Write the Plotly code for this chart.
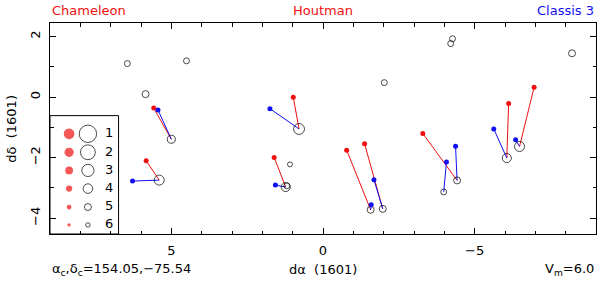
import plotly.graph_objects as go

# ---------------- data ----------------
# stars: offsets (dα, dδ) in units of the chart, and visual magnitude
star_x = [6.45, 4.50, 5.85, 5.00, 0.79, 5.40, 1.23, 1.19, 1.09, -2.02, -1.57, -1.97,
          -4.42, -3.98, -4.27, -4.21, -8.21, -6.06, -6.48]
star_y = [1.11, 1.20, 0.10, -1.39, -1.05, -2.74, -2.97, -2.93, -2.22, 0.48, -3.72, -3.69,
          -2.75, -3.13, 1.93, 1.77, 1.45, -2.01, -1.63]
star_mag = [5.4, 5.4, 5.0, 4.6, 3.5, 3.85, 4.2, 5.4, 5.8, 5.4, 5.0, 5.0,
            5.0, 5.4, 5.4, 5.4, 5.0, 4.2, 3.85]

# red (Houtman) positions, linked to star index
red_star = [3, 4, 5, 6, 10, 11, 12, 17, 18]
red_x = [5.58, 0.98, 5.83, 1.61, -0.78, -1.37, -3.29, -6.12, -6.96]
red_y = [-0.36, 0.00, -2.10, -1.99, -1.75, -1.54, -1.20, -0.21, 0.33]

# blue (Classis 3) positions, linked to star index
blue_star = [3, 4, 5, 6, 10, 11, 12, 13, 17, 18]
blue_x = [5.44, 1.75, 6.28, 1.57, -1.59, -1.68, -4.37, -4.07, -5.63, -6.35]
blue_y = [-0.42, -0.38, -2.77, -2.90, -3.55, -2.73, -1.62, -2.14, -1.05, -1.41]

legend_mags = [1, 2, 3, 4, 5, 6]
legend_labels = ["1", "2", "3", "4", "5", "6"]

x_range = [9, -9]
y_range = [-4.52, 2.45]

# ---------------- styling helpers ----------------
RED = "#f01010"
BLUE = "#1010f0"
FONT = "DejaVu Sans"


def circ_size(m):
    return 20.0 - 2.6 * m


def dot_size(m):
    return 12.2 - 1.48 * m


fig = go.Figure()


def segs(idx, xs, ys):
    lx, ly = [], []
    for i, x, y in zip(idx, xs, ys):
        lx += [star_x[i], x, None]
        ly += [star_y[i], y, None]
    return lx, ly


rx, ry = segs(red_star, red_x, red_y)
bx, by = segs(blue_star, blue_x, blue_y)

fig.add_trace(go.Scatter(x=rx, y=ry, mode="lines", line=dict(color=RED, width=1),
                         hoverinfo="skip"))
fig.add_trace(go.Scatter(x=bx, y=by, mode="lines", line=dict(color=BLUE, width=1),
                         hoverinfo="skip"))
fig.add_trace(go.Scatter(x=star_x, y=star_y, mode="markers",
                         marker=dict(symbol="circle-open", color="black",
                                     size=[circ_size(m) for m in star_mag],
                                     line=dict(width=1, color="black"))))
fig.add_trace(go.Scatter(x=red_x, y=red_y, mode="markers",
                         marker=dict(color=RED, size=5, line=dict(width=0))))
fig.add_trace(go.Scatter(x=blue_x, y=blue_y, mode="markers",
                         marker=dict(color=BLUE, size=5, line=dict(width=0))))

# legend box (in data coordinates, lower-left corner of the frame)
leg_x_dot, leg_x_circ, leg_x_txt = 8.37, 7.75, 7.05
leg_rows = [-1.21, -1.82, -2.42, -3.02, -3.63, -4.22]
fig.add_shape(type="rect", xref="x", yref="y", x0=9, x1=6.74, y0=y_range[0], y1=-0.61,
              line=dict(color="black", width=1), fillcolor="white", layer="below")
fig.add_trace(go.Scatter(x=[leg_x_dot] * 6, y=leg_rows, mode="markers",
                         marker=dict(color=RED, size=[dot_size(m) for m in legend_mags],
                                     line=dict(width=0))))
fig.add_trace(go.Scatter(x=[leg_x_circ] * 6, y=leg_rows, mode="markers",
                         marker=dict(symbol="circle-open", color="black",
                                     size=[circ_size(m) for m in legend_mags],
                                     line=dict(width=1, color="black"))))
fig.add_trace(go.Scatter(x=[leg_x_txt] * 6, y=leg_rows, mode="text", text=legend_labels,
                         textfont=dict(family=FONT, size=13, color="black")))

axis_common = dict(showline=True, linecolor="black", linewidth=1, mirror="ticks",
                   ticks="inside", tickcolor="black", tickwidth=1, ticklen=6,
                   showgrid=False, zeroline=False,
                   tickfont=dict(family=FONT, size=13, color="black"))

fig.update_layout(
    width=600, height=282,
    margin=dict(l=50, r=4, t=23, b=48),
    paper_bgcolor="white", plot_bgcolor="white",
    showlegend=False,
    xaxis=dict(range=x_range, tick0=0, dtick=5,
               minor=dict(dtick=1, ticklen=3.5, ticks="inside", tickcolor="black"),
               ticklabelstandoff=4, **axis_common),
    yaxis=dict(range=y_range, tick0=0, dtick=2, tickangle=-90,
               minor=dict(dtick=1, ticklen=3.5, ticks="inside", tickcolor="black"),
               ticklabelstandoff=4, **axis_common),
)

ann_font = dict(family=FONT, size=13)
anns = [
    dict(text="Chameleon", x=0.0, y=1.057, xanchor="left", font=dict(color=RED, **ann_font)),
    dict(text="Houtman", x=0.5, y=1.057, xanchor="center", font=dict(color=RED, **ann_font)),
    dict(text="Classis 3", x=1.0, y=1.057, xanchor="right", font=dict(color=BLUE, **ann_font)),
    dict(text="α<sub>c</sub>,δ<sub>c</sub>=154.05,−75.54", x=0.0, y=-0.17, xanchor="left",
         font=dict(color="black", **ann_font)),
    dict(text="dα  (1601)", x=0.5, y=-0.17, xanchor="center",
         font=dict(color="black", **ann_font)),
    dict(text="V<sub>m</sub>=6.0", x=1.0, y=-0.17, xanchor="right",
         font=dict(color="black", **ann_font)),
    dict(text="dδ  (1601)", x=-0.071, y=0.5, xanchor="center", textangle=-90,
         font=dict(color="black", **ann_font)),
]
for a in anns:
    a.update(xref="paper", yref="paper", yanchor="middle", showarrow=False)
fig.update_layout(annotations=anns)

fig.write_html("out.html", config={"displayModeBar": False},
               post_script="document.body.style.margin='0';document.body.style.overflow='hidden';")
